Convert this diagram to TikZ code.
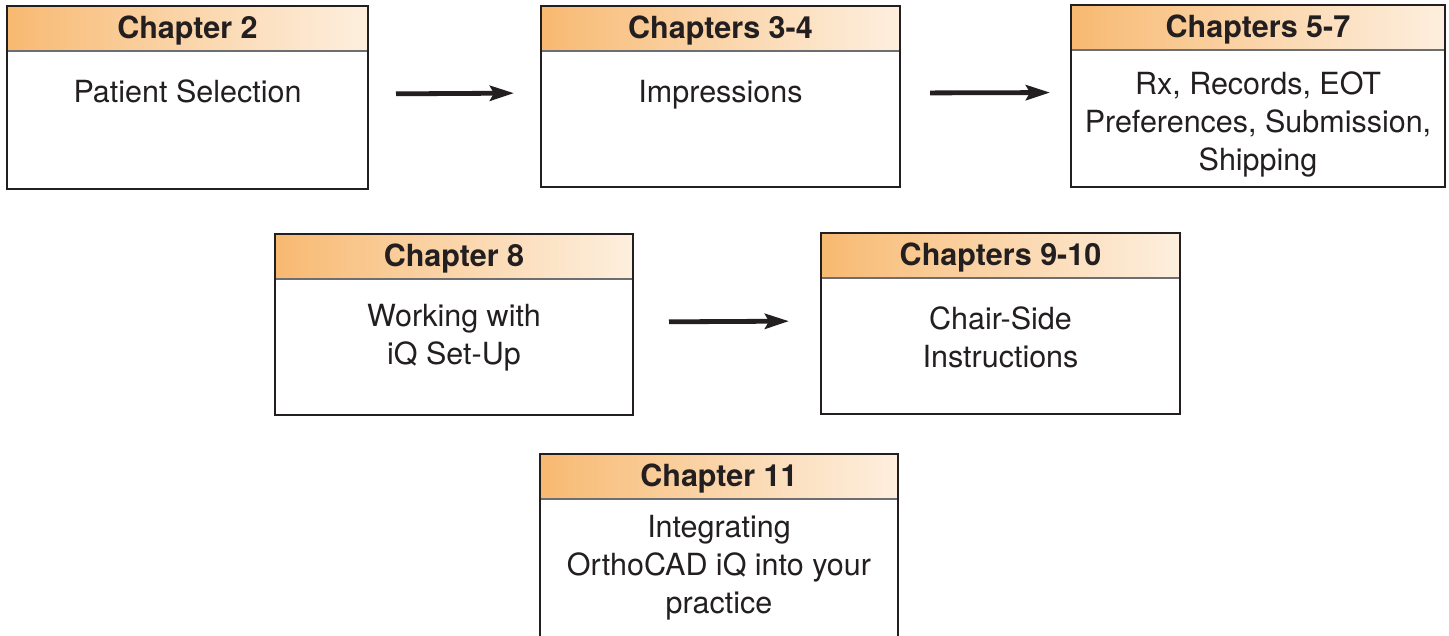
\documentclass[tikz,border=0pt]{standalone}
\usepackage{fontspec}
\setmainfont{TeX Gyre Heros}
\usetikzlibrary{arrows.meta}
\definecolor{ink}{HTML}{231F20}
\definecolor{orng}{HTML}{F4982E}
\definecolor{sepgray}{HTML}{6D6E71}
\pgfdeclarehorizontalshading{hdrshade}{100bp}{color(0bp)=(orng); color(8bp)=(orng!90!white); color(30bp)=(orng!62!white); color(62bp)=(orng!28!white); color(92bp)=(white); color(100bp)=(white)}
\tikzset{
  boxframe/.style={draw=ink, line width=2.6pt, inner sep=0pt, outer sep=0pt},
  headbar/.style={shading=hdrshade, draw=none, inner sep=0pt, outer sep=0pt,
    text=ink, text height=20pt, text depth=0pt, font=\fontsize{30.5}{34}\selectfont\bfseries},
  sepline/.style={draw=sepgray, line width=1.4pt},
  bodytext/.style={align=center, text=ink, inner sep=0pt, font=\fontsize{30.5}{38}\selectfont},
  flowarrow/.style={draw=ink, line width=4.8pt, -{Stealth[length=24pt, width=15pt, inset=4pt]}},
}
% name, cx, top, w, h, header, body y, body
\newcommand{\chapbox}[8]{%
  \node[headbar, minimum width=#4 pt, minimum height=45pt] (#1h) at ({#2},{#3+22.5}) {#6};
  \draw[sepline] (#1h.south west) -- (#1h.south east);
  \node[boxframe, minimum width=#4 pt, minimum height=#5 pt] (#1) at ({#2},{#3+#5/2}) {};
  \node[bodytext] (#1t) at ({#2},{#7}) {#8};
}
\begin{document}
\begin{tikzpicture}[x=1pt, y=-1pt]
  \useasboundingbox[fill=white] (0,0) rectangle (1449,635);
  \chapbox{b1}{187.5}{6}{361}{183}{Chapter 2}{91}{Patient Selection}
  \chapbox{b2}{720.5}{6}{359}{181}{Chapters 3-4}{95}{Impressions}
  \chapbox{b3}{1258}{5}{374}{182}{Chapters 5-7}{124}{Rx, Records, EOT\\Preferences, Submission,\\Shipping}
  \chapbox{b4}{454}{234}{358}{181}{Chapter 8}{338}{Working with\\iQ Set-Up}
  \chapbox{b5}{1000.5}{233}{359}{181}{Chapters 9-10}{337}{Chair-Side\\Instructions}
  \chapbox{b6}{719}{454}{358}{186}{Chapter 11}{568}{Integrating\\OrthoCAD iQ into your\\practice}
  \draw[flowarrow, shorten <=28pt, shorten >=27pt] ([yshift=3.5pt]b1.east) -- ([yshift=3.5pt]b2.west);
  \draw[flowarrow, shorten <=30pt, shorten >=21pt] ([yshift=3.5pt]b2.east) -- ([yshift=3.5pt]b3.west);
  \draw[flowarrow, shorten <=36pt, shorten >=32pt] ([yshift=2.5pt]b4.east) -- ([yshift=2.5pt]b5.west);
\end{tikzpicture}
\end{document}
